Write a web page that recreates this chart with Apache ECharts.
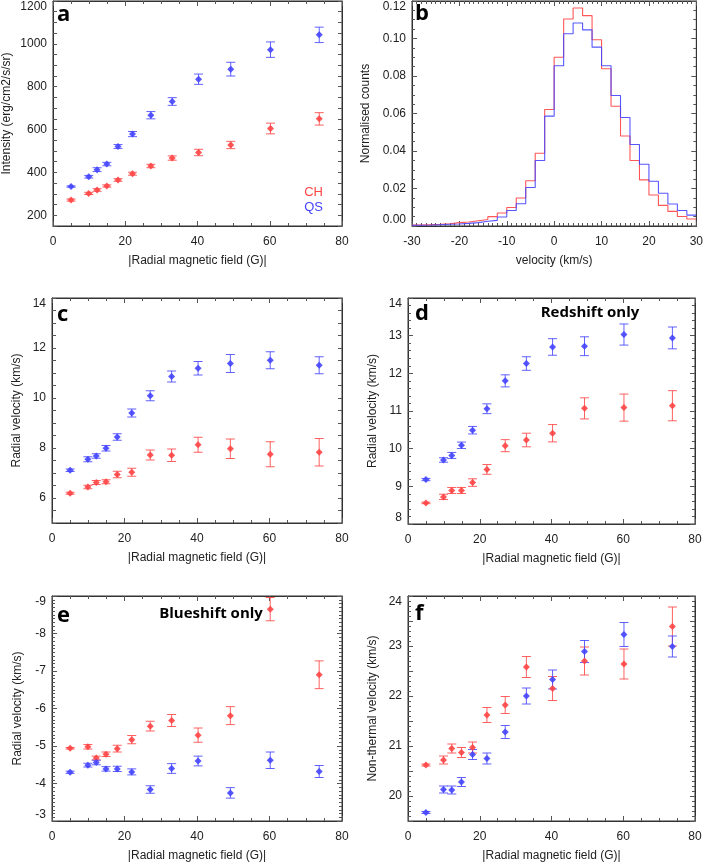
<!DOCTYPE html>
<html>
<head>
<meta charset="utf-8">
<script src="https://cdn.jsdelivr.net/npm/echarts@6/dist/echarts.min.js"></script>
<style>
  html, body { margin: 0; padding: 0; background: #fff; }
  #chart { width: 706px; height: 863px; }
</style>
</head>
<body>
<div id="chart"></div>
<script>
// |B| bin centres shared by panels a, c-f
const fieldBins = [5, 9.9, 12.2, 14.9, 18, 22, 27.1, 33, 40.3, 49.2, 60.2, 73.7];

// a: intensity
const intensityCH = [271, 302, 318, 337, 365, 394, 430, 467, 493, 528, 605, 650];
const intensityCHErr = [5, 5, 6, 5, 6, 7, 8, 10, 15, 17, 25, 29];
const intensityQS = [334, 380, 413, 439, 521, 579, 667, 731, 835, 882, 973, 1042];
const intensityQSErr = [3, 6, 9, 8, 9, 12, 17, 18, 24, 32, 36, 36];

// b: velocity histogram (left bin edges, 2 km/s bins)
const velocityBins = [-30, -28, -26, -24, -22, -20, -18, -16, -14, -12, -10, -8, -6, -4, -2,
  0, 2, 4, 6, 8, 10, 12, 14, 16, 18, 20, 22, 24, 26, 28];
const countsCH = [0.0005, 0.0007, 0.0009, 0.0012, 0.0018, 0.0021, 0.0028, 0.0035, 0.005, 0.0069,
  0.0099, 0.0149, 0.0241, 0.0388, 0.0621, 0.090, 0.1104, 0.1163, 0.1122, 0.0993,
  0.0839, 0.0639, 0.048, 0.0349, 0.0246, 0.0165, 0.011, 0.0078, 0.0051, 0.0037];
const countsQS = [0.0004, 0.0005, 0.0007, 0.0009, 0.0011, 0.0014, 0.0018, 0.0025, 0.003, 0.0048,
  0.0083, 0.0119, 0.0205, 0.0349, 0.0586, 0.0855, 0.1025, 0.1083, 0.1046, 0.0954,
  0.0855, 0.0696, 0.0579, 0.0435, 0.0329, 0.0239, 0.0175, 0.0117, 0.0083, 0.0058];

// c: radial velocity
const velocityCH = [6.19, 6.44, 6.62, 6.65, 6.94, 7.03, 7.72, 7.71, 8.13, 7.97, 7.75, 7.83];
const velocityCHErr = [0.04, 0.07, 0.08, 0.08, 0.13, 0.16, 0.2, 0.25, 0.3, 0.39, 0.5, 0.55];
const velocityQS = [7.11, 7.55, 7.68, 7.99, 8.44, 9.40, 10.09, 10.86, 11.19, 11.38, 11.51, 11.31];
const velocityQSErr = [0.05, 0.1, 0.09, 0.11, 0.13, 0.16, 0.2, 0.22, 0.27, 0.36, 0.34, 0.34];

// d: redshift only
const redshiftCH = [8.56, 8.72, 8.89, 8.89, 9.10, 9.45, 10.08, 10.23, 10.41, 11.07, 11.09, 11.14];
const redshiftCHErr = [0.02, 0.07, 0.08, 0.08, 0.1, 0.13, 0.16, 0.18, 0.23, 0.28, 0.36, 0.4];
const redshiftQS = [9.18, 9.70, 9.82, 10.09, 10.49, 11.06, 11.80, 12.26, 12.70, 12.72, 13.03, 12.94];
const redshiftQSErr = [0.03, 0.06, 0.08, 0.085, 0.1, 0.13, 0.16, 0.18, 0.22, 0.25, 0.28, 0.29];

// e: blueshift only
const blueshiftCH = [-4.94, -4.98, -4.68, -4.78, -4.93, -5.17, -5.53, -5.68, -5.29, -5.81, -8.65, -6.90];
const blueshiftCHErr = [0.02, 0.06, 0.05, 0.06, 0.09, 0.11, 0.13, 0.16, 0.19, 0.24, 0.31, 0.37];
const blueshiftQS = [-4.30, -4.49, -4.56, -4.39, -4.39, -4.31, -3.84, -4.40, -4.60, -3.75, -4.62, -4.32];
const blueshiftQSErr = [0.03, 0.05, 0.06, 0.06, 0.07, 0.08, 0.1, 0.13, 0.13, 0.14, 0.22, 0.16];

// f: non-thermal velocity
const nonthermalCH = [20.62, 20.72, 20.95, 20.87, 20.97, 21.62, 21.82, 22.58, 22.15, 22.70, 22.64, 23.39];
const nonthermalCHErr = [0.02, 0.08, 0.09, 0.1, 0.11, 0.15, 0.17, 0.21, 0.24, 0.28, 0.3, 0.39];
const nonthermalQS = [19.67, 20.13, 20.12, 20.28, 20.83, 20.75, 21.28, 22.0, 22.33, 22.89, 23.23, 22.99];
const nonthermalQSErr = [0.02, 0.07, 0.08, 0.09, 0.1, 0.11, 0.13, 0.16, 0.19, 0.22, 0.24, 0.21];

// tick labels
const fieldTicks = [0, 20, 40, 60, 80];
const velocityTicks = [-30, -20, -10, 0, 10, 20, 30];
const intensityTicks = [200, 400, 600, 800, 1000, 1200];
const countTicks = [0, 0.02, 0.04, 0.06, 0.08, 0.10, 0.12];
const radialTicks = [6, 8, 10, 12, 14];
const redshiftTicks = [8, 9, 10, 11, 12, 13, 14];
const blueshiftTicks = [-9, -8, -7, -6, -5, -4, -3];
const nonthermalTicks = [20, 21, 22, 23, 24];

const RED = '#ff4545';
const BLUE = '#4545ff';
const TICK = '#555';
const FONT = 'Liberation Sans, Arial, sans-serif';
const fieldName = '|Radial magnetic field (G)|';

const grids = [];
const xAxes = [];
const yAxes = [];
const series = [];

// main axis with labels, plus a mirrored tick-only axis on the opposite side.
// Ticks come from interval (min is a multiple of it); labels only on cfg.ticks.
function makeAxes(list, gi, dim, cfg) {
  const sides = dim === 'x' ? ['bottom', 'top'] : ['left', 'right'];
  const first = list.length;
  const fmt = cfg.fmt || (v => String(v));
  sides.forEach((pos, s) => {
    list.push({
      type: 'value',
      gridIndex: gi,
      position: pos,
      min: cfg.min,
      max: cfg.max,
      interval: cfg.interval,
      inverse: !!cfg.inverse,
      axisLine: { show: true, onZero: false, lineStyle: { color: '#333', width: 1 } },
      splitLine: { show: false },
      axisTick: { show: true, inside: true, length: cfg.minorSplit ? 5 : 4, lineStyle: { color: TICK } },
      minorTick: { show: !!cfg.minorSplit, splitNumber: cfg.minorSplit || 1, length: 3, lineStyle: { color: TICK } },
      axisLabel: {
        show: s === 0, color: '#222', fontSize: 12, fontFamily: FONT,
        margin: dim === 'x' ? 10 : 6,
        formatter: v => cfg.ticks.some(t => Math.abs(t - v) < 1e-6) ? fmt(v) : '',
        verticalAlignMaxLabel: cfg.maxAlign,
        verticalAlignMinLabel: cfg.minAlign
      },
      name: s === 0 ? cfg.name : '',
      nameLocation: 'middle',
      nameGap: cfg.nameGap,
      nameTextStyle: { color: '#222', fontSize: 12, fontFamily: FONT }
    });
  });
  return first;
}

function errBar(color) {
  return function (params, api) {
    const x = api.value(0), y = api.value(1), e = api.value(2);
    const lo = api.coord([x, y - e]);
    const hi = api.coord([x, y + e]);
    const w = 4.5;
    const st = { stroke: color, lineWidth: 1, opacity: 0.85 };
    return {
      type: 'group',
      children: [
        { type: 'line', shape: { x1: lo[0], y1: lo[1], x2: hi[0], y2: hi[1] }, style: st },
        { type: 'line', shape: { x1: lo[0] - w, y1: lo[1], x2: lo[0] + w, y2: lo[1] }, style: st },
        { type: 'line', shape: { x1: hi[0] - w, y1: hi[1], x2: hi[0] + w, y2: hi[1] }, style: st }
      ]
    };
  };
}

function addPoints(ax, values, errs, color) {
  series.push({
    type: 'custom', xAxisIndex: ax[0], yAxisIndex: ax[1], silent: true, z: 2,
    encode: { x: 0, y: 1 },
    data: fieldBins.map((x, i) => [x, values[i], errs[i]]),
    renderItem: errBar(color)
  });
  series.push({
    type: 'scatter', xAxisIndex: ax[0], yAxisIndex: ax[1], silent: true, z: 3,
    symbol: 'diamond', symbolSize: 7,
    itemStyle: { color: color, opacity: 0.9 },
    data: fieldBins.map((x, i) => [x, values[i]])
  });
}

function addPanel(box, xCfg, yCfg) {
  const gi = grids.length;
  grids.push(Object.assign({ show: true, borderColor: '#333', borderWidth: 1 }, box));
  return [makeAxes(xAxes, gi, 'x', xCfg), makeAxes(yAxes, gi, 'y', yCfg)];
}

const fieldAxis = { min: 0, max: 80, interval: 20, minorSplit: 4, ticks: fieldTicks, name: fieldName, nameGap: 29 };

// a
let ax = addPanel({ left: 52, top: 1, width: 290, height: 225 }, fieldAxis,
  { min: 150, max: 1200, interval: 50, ticks: intensityTicks, name: 'Intensity (erg/cm2/s/sr)', nameGap: 40, maxAlign: 'top' });
addPoints(ax, intensityCH, intensityCHErr, RED);
addPoints(ax, intensityQS, intensityQSErr, BLUE);

// b
ax = addPanel({ left: 412, top: 1, width: 288, height: 225 },
  { min: -30, max: 30, interval: 10, minorSplit: 10, ticks: velocityTicks, name: 'velocity (km/s)', nameGap: 29 },
  { min: 0, max: 0.12, interval: 0.02, minorSplit: 4, ticks: countTicks, name: 'Normalised counts', nameGap: 40,
    fmt: v => v.toFixed(2), maxAlign: 'top', minAlign: 'bottom' });
[[countsCH, RED], [countsQS, BLUE]].forEach(([vals, color]) => {
  const pts = velocityBins.map((x, i) => [x, vals[i]]);
  pts.push([velocityBins[velocityBins.length - 1] + 2, vals[vals.length - 1]]);
  series.push({
    type: 'line', xAxisIndex: ax[0], yAxisIndex: ax[1], step: 'end', silent: true,
    symbol: 'none', lineStyle: { color: color, width: 1.1, opacity: 0.9 }, data: pts
  });
});

// c
ax = addPanel({ left: 52, top: 298, width: 290, height: 225 }, fieldAxis,
  { min: 5, max: 14, interval: 0.5, ticks: radialTicks, name: 'Radial velocity (km/s)', nameGap: 29, maxAlign: 'top' });
addPoints(ax, velocityCH, velocityCHErr, RED);
addPoints(ax, velocityQS, velocityQSErr, BLUE);

// d
ax = addPanel({ left: 408, top: 298, width: 287, height: 226 }, fieldAxis,
  { min: 8, max: 14, interval: 1, minorSplit: 5, ticks: redshiftTicks, name: 'Radial velocity (km/s)', nameGap: 29,
    maxAlign: 'top', minAlign: 'bottom' });
addPoints(ax, redshiftCH, redshiftCHErr, RED);
addPoints(ax, redshiftQS, redshiftQSErr, BLUE);

// e
ax = addPanel({ left: 52, top: 596, width: 290, height: 226 }, fieldAxis,
  { min: -9, max: -3, interval: 1, minorSplit: 10, inverse: true, ticks: blueshiftTicks, name: 'Radial velocity (km/s)', nameGap: 28,
    minAlign: 'top', maxAlign: 'bottom' });
addPoints(ax, blueshiftCH, blueshiftCHErr, RED);
addPoints(ax, blueshiftQS, blueshiftQSErr, BLUE);

// f
ax = addPanel({ left: 408, top: 596, width: 287, height: 226 }, fieldAxis,
  { min: 19.5, max: 24, interval: 0.5, minorSplit: 5, ticks: nonthermalTicks, name: 'Non-thermal velocity (km/s)', nameGap: 29, maxAlign: 'top' });
addPoints(ax, nonthermalCH, nonthermalCHErr, RED);
addPoints(ax, nonthermalQS, nonthermalQSErr, BLUE);

function label(text, x, y, size, extra) {
  return {
    type: 'text', x: x, y: y, silent: true, z: 10,
    style: Object.assign({
      text: text, fill: '#000', font: 'bold ' + size + 'px "Open Sans", sans-serif',
      verticalAlign: 'middle', align: 'left'
    }, extra || {})
  };
}

const chart = echarts.init(document.getElementById('chart'));
chart.setOption({
  animation: false,
  backgroundColor: '#fff',
  grid: grids,
  xAxis: xAxes,
  yAxis: yAxes,
  series: series,
  graphic: [
    label('a', 57, 15, 22),
    label('b', 415, 14, 22),
    label('c', 57, 315, 22),
    label('d', 415, 314, 22),
    label('e', 57, 616, 22),
    label('f', 415, 614, 22),
    label('Redshift only', 590, 313, 15, { align: 'center' }),
    label('Blueshift only', 211, 614, 15, { align: 'center' }),
    label('CH', 323, 192, 13, { align: 'right', fill: RED, font: '13px ' + FONT }),
    label('QS', 323, 207, 13, { align: 'right', fill: BLUE, font: '13px ' + FONT })
  ]
});
</script>
</body>
</html>
